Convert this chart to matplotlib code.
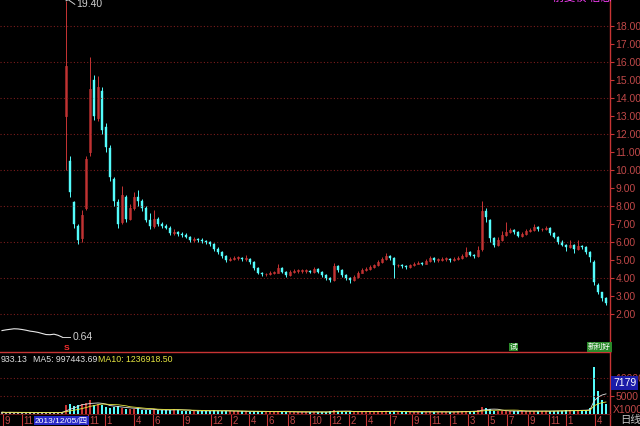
import numpy as np
import pandas as pd
import matplotlib
matplotlib.use('Agg')
import matplotlib.pyplot as plt

plt.rcParams['font.family'] = ['Liberation Sans', 'Noto Sans CJK SC', 'DejaVu Sans']

# price before relisting (closes only), bars 0..15
pre_close = [1.08, 1.12, 1.15, 1.18, 1.17, 1.14, 1.10, 1.05, 1.02, 0.98, 0.92, 0.86, 0.85, 0.88, 0.82, 0.72]
pre_low_label = 0.64

# daily candles, bars 16..151
opens = [13.0, 10.5, 8.2, 6.9, 6.2, 7.9, 11.0, 15.0, 12.9, 14.4,
         12.4, 11.2, 9.5, 8.2, 7.1, 8.5, 7.3, 7.9, 8.5, 8.3,
         7.9, 7.2, 6.9, 7.3, 7.0, 6.9, 6.8, 6.5, 6.55, 6.45,
         6.4, 6.3, 6.1, 6.15, 6.1, 6.05, 6.0, 5.9, 5.6, 5.45,
         5.2, 5.0, 5.05, 5.1, 5.1, 5.05, 5.05, 4.9, 4.55, 4.3,
         4.2, 4.2, 4.3, 4.3, 4.55, 4.35, 4.15, 4.35, 4.4, 4.4,
         4.4, 4.4, 4.35, 4.5, 4.35, 4.15, 4.0, 3.9, 4.65, 4.45,
         4.15, 4.0, 3.9, 4.05, 4.3, 4.45, 4.5, 4.6, 4.7, 4.9,
         5.05, 5.2, 5.1, 4.7, 4.7, 4.65, 4.6, 4.7, 4.8, 4.85,
         4.8, 4.95, 5.1, 5.0, 5.0, 5.05, 5.05, 5.0, 5.05, 5.1,
         5.2, 5.45, 5.3, 5.2, 5.6, 7.7, 7.2, 6.2, 5.85, 6.1,
         6.4, 6.55, 6.65, 6.55, 6.35, 6.45, 6.6, 6.65, 6.85, 6.7,
         6.7, 6.8, 6.5, 6.3, 6.0, 5.85, 5.7, 5.85, 5.6, 5.8,
         5.7, 5.45, 4.9, 3.6, 3.2, 2.9]
closes = [15.8, 8.8, 7.0, 6.1, 7.5, 10.6, 14.5, 13.0, 14.6, 12.2,
          11.3, 9.6, 8.3, 7.0, 8.6, 7.3, 7.9, 8.5, 8.3, 7.9,
          7.2, 6.9, 7.3, 7.0, 6.9, 6.8, 6.5, 6.55, 6.45, 6.4,
          6.3, 6.1, 6.15, 6.1, 6.05, 6.0, 5.9, 5.6, 5.45, 5.2,
          5.0, 5.05, 5.1, 5.1, 5.05, 5.05, 4.9, 4.55, 4.3, 4.2,
          4.2, 4.3, 4.3, 4.55, 4.35, 4.15, 4.35, 4.4, 4.4, 4.4,
          4.4, 4.35, 4.5, 4.35, 4.15, 4.0, 3.9, 4.65, 4.45, 4.15,
          4.0, 3.9, 4.05, 4.3, 4.45, 4.5, 4.6, 4.7, 4.9, 5.05,
          5.2, 5.1, 4.7, 4.7, 4.65, 4.6, 4.7, 4.8, 4.85, 4.8,
          4.95, 5.1, 5.0, 5.0, 5.05, 5.05, 5.0, 5.05, 5.1, 5.2,
          5.45, 5.3, 5.2, 5.55, 7.7, 7.4, 6.2, 5.85, 6.1, 6.4,
          6.55, 6.65, 6.55, 6.35, 6.45, 6.6, 6.65, 6.85, 6.7, 6.7,
          6.8, 6.5, 6.3, 6.0, 5.85, 5.7, 5.85, 5.6, 5.8, 5.7,
          5.45, 5.15, 3.8, 3.2, 2.9, 2.6]
highs = [19.4, 10.8, 8.3, 7.0, 7.8, 10.8, 16.3, 15.3, 15.2, 14.6,
         12.6, 11.4, 9.6, 8.4, 9.1, 8.6, 8.1, 8.8, 8.9, 8.4,
         8.0, 7.6, 7.8, 7.4, 7.1, 7.0, 6.9, 6.7, 6.6, 6.55,
         6.5, 6.35, 6.25, 6.2, 6.2, 6.1, 6.05, 5.95, 5.7, 5.5,
         5.25, 5.15, 5.2, 5.2, 5.15, 5.3, 5.1, 4.95, 4.6, 4.35,
         4.3, 4.4, 4.4, 4.8, 4.6, 4.4, 4.45, 4.5, 4.5, 4.5,
         4.5, 4.45, 4.6, 4.55, 4.4, 4.2, 4.05, 4.85, 4.7, 4.5,
         4.2, 4.05, 4.15, 4.4, 4.55, 4.6, 4.7, 4.8, 5.0, 5.15,
         5.4, 5.3, 5.15, 4.8, 4.8, 4.7, 4.8, 4.9, 4.95, 4.9,
         5.05, 5.2, 5.15, 5.1, 5.15, 5.15, 5.1, 5.15, 5.2, 5.35,
         5.7, 5.5, 5.35, 5.8, 8.3, 7.9, 7.3, 6.3, 6.3, 6.6,
         7.1, 6.8, 6.7, 6.6, 6.55, 6.7, 6.75, 7.0, 6.9, 6.8,
         6.9, 6.85, 6.55, 6.35, 6.1, 5.9, 6.1, 5.9, 6.1, 5.85,
         5.75, 5.5, 5.0, 3.7, 3.25, 2.95]
lows = [10.0, 8.5, 6.8, 5.9, 6.0, 7.8, 10.8, 12.8, 12.7, 12.0,
        11.0, 9.4, 8.0, 6.8, 7.0, 7.1, 7.2, 7.8, 8.0, 7.7,
        7.1, 6.7, 6.8, 6.9, 6.8, 6.7, 6.4, 6.4, 6.35, 6.3,
        6.2, 6.0, 6.0, 6.0, 5.95, 5.9, 5.8, 5.5, 5.35, 5.1,
        4.9, 4.95, 5.0, 5.0, 4.95, 4.95, 4.8, 4.45, 4.2, 4.1,
        4.1, 4.15, 4.2, 4.25, 4.25, 4.05, 4.1, 4.3, 4.3, 4.3,
        4.3, 4.25, 4.3, 4.25, 4.05, 3.9, 3.8, 3.85, 4.35, 4.05,
        3.9, 3.7, 3.85, 4.0, 4.25, 4.4, 4.45, 4.55, 4.65, 4.85,
        5.0, 5.0, 4.0, 4.6, 4.55, 4.5, 4.55, 4.65, 4.75, 4.7,
        4.75, 4.9, 4.9, 4.9, 4.95, 4.95, 4.9, 4.95, 5.0, 5.05,
        5.15, 5.2, 5.1, 5.15, 5.5, 7.1, 6.0, 5.7, 5.8, 6.05,
        6.35, 6.5, 6.45, 6.25, 6.3, 6.4, 6.55, 6.6, 6.6, 6.6,
        6.65, 6.4, 6.2, 5.9, 5.75, 5.5, 5.65, 5.4, 5.55, 5.6,
        5.35, 4.9, 3.6, 3.1, 2.75, 2.5]

# volume (x1000), bars 0..151
volume = [0.5, 0.4, 0.5, 0.4, 0.5, 0.4, 0.4, 0.5, 0.4, 0.4, 0.5, 0.4, 0.4, 0.5, 0.4, 0.5,
          2.4, 2.8, 2.2, 2.6, 2.9, 3.1, 3.8, 2.6, 2.9, 2.4,
          2.0, 1.8, 1.9, 2.2, 1.6, 1.5, 1.3, 1.4, 1.7, 1.2, 1.1, 1.2, 1.3, 1.0, 1.1,
          1.0, 1.1, 1.5, 1.2, 0.9, 0.9, 0.8, 0.9, 0.8, 0.9, 0.8, 0.9, 1.0, 0.9, 0.8, 0.9, 0.8, 0.7, 0.8, 0.7,
          0.7, 0.6, 0.8, 0.7, 0.6, 0.6, 0.7, 0.6, 0.8, 0.6, 0.6, 0.5, 0.6, 0.5, 0.6, 0.5, 0.5, 0.6, 0.5, 0.6,
          0.6, 0.7, 1.2, 0.8, 0.7, 0.6, 0.7, 0.6, 0.6, 0.7, 0.6, 0.7, 0.6, 0.7, 0.8, 0.9, 0.7, 0.8, 0.6, 0.6,
          0.6, 0.5, 0.6, 0.6, 0.5, 0.6, 0.7, 0.6, 0.6, 0.5, 0.6, 0.6, 0.6, 0.7, 0.7, 0.9, 0.7, 0.7, 1.0, 2.0,
          1.6, 1.3, 0.9, 0.8, 0.8, 0.9, 0.8, 0.7, 0.7, 0.8, 0.8, 0.9, 0.8, 0.7, 0.8, 0.9, 0.8, 0.9, 0.8, 0.9,
          1.0, 1.1, 0.9, 1.0, 1.1, 1.2, 1.6, 13.0, 6.5, 4.0, 2.8]

price_ticks = list(range(2, 19))
grid_levels = [2, 4, 6, 8, 10, 12, 14, 16, 18]
vol_ticks = [5, 10]
vol_tick_labels = ['5000', '10000']

date_ticks = [0.25, 5, 21.5, 25.75, 33, 37.75, 45.25, 52.25, 57.25, 61.75, 66.25, 71.5, 77,
              82, 86.75, 91, 97, 102.5, 107, 112, 116.5, 121.5, 126.25, 131.5, 136.75, 141, 148.25]
date_labels = ['9', '11', '11', '1', '4', '6', '9', '12', '2', '4', '6', '8', '10',
               '12', '2', '4', '7', '9', '11', '1', '3', '5', '7', '9', '11', '1', '4']
cursor_date = '2013/12/05/四'
cursor_pos = 8.25

RED = '#c83434'
DRED = '#7a1c1c'
CYAN = '#54fcfc'
W, H = 640, 426


def box(x0, y0, x1, y1):
    return [x0 / W, 1 - y1 / H, (x1 - x0) / W, (y1 - y0) / H]


fig = plt.figure(figsize=(6.4, 4.26), dpi=100, facecolor='black')

ax = fig.add_axes(box(0, 0, 610, 352))
ax2 = fig.add_axes(box(0, 352, 610, 414))
ax3 = fig.add_axes(box(0, 414, 610, 426))
for a in (ax, ax2, ax3):
    a.set_facecolor('black')
    a.set_xlim(-0.5, 152)
    for s in ('left', 'top', 'bottom'):
        a.spines[s].set_visible(False)
    a.spines['right'].set_color(RED)
    a.spines['right'].set_linewidth(1)
    a.tick_params(axis='x', bottom=False, labelbottom=False)

# ---- price panel
ax.set_ylim(-0.11, 19.44)
for g in grid_levels:
    ax.axhline(g, color=DRED, lw=0.8, ls=(0, (1, 2)))

pre_x = np.arange(len(pre_close))
ax.plot(pre_x, pre_close, color='#e8e8e8', lw=0.8)

o = np.array(opens)
c = np.array(closes)
hi = np.array(highs)
lo = np.array(lows)
cx = np.arange(len(pre_close), len(pre_close) + len(closes))
up = c >= o
cols = np.where(up, RED, CYAN)
ax.vlines(cx, lo, hi, colors=cols, lw=0.7)
body_h = np.maximum(np.abs(c - o), 0.04)
ax.bar(cx[~up], body_h[~up], bottom=np.minimum(o, c)[~up], width=0.4,
       color=CYAN, edgecolor=CYAN, lw=0.3)
ax.bar(cx[up], body_h[up], bottom=np.minimum(o, c)[up], width=0.4,
       color='black', edgecolor=RED, lw=0.5)

ax.yaxis.tick_right()
ax.set_yticks(price_ticks)
ax.set_yticklabels([f'{v:.2f}' for v in price_ticks])
ax.tick_params(axis='y', colors=RED, labelsize=7.5, length=3, pad=1, width=0.8)
for t in ax.get_yticklabels():
    t.set_color('#c04848')

# max / min labels
kmax = cx[np.argmax(hi)]
ax.plot([kmax, kmax + 0.6, kmax + 2.2], [hi.max(), hi.max() + 0.05, hi.max() - 0.2], color='#d0d0d0', lw=0.7)
ax.text(kmax + 2.6, hi.max() - 0.2, f'{hi.max():.2f}', color='#d0d0d0', fontsize=7.5, va='center')
ax.plot([pre_x[-1], pre_x[-1] + 2], [pre_close[-1], pre_close[-1]], color='#d0d0d0', lw=0.7)
ax.text(pre_x[-1] + 2.6, pre_close[-1], f'{pre_low_label:.2f}', color='#d0d0d0', fontsize=7.5, va='center')

# ---- volume panel
vmax = 17.2
ax2.set_ylim(0, vmax)
ax2.spines['top'].set_visible(True)
ax2.spines['top'].set_color(RED)
ax2.spines['top'].set_linewidth(1)
for g in vol_ticks:
    ax2.axhline(g, color=DRED, lw=0.8, ls=(0, (1, 2)))
vx = np.arange(len(volume))
vcols = ['#b0b0b0'] * len(pre_close) + list(cols)
ax2.bar(vx, volume, width=0.5, color=vcols, lw=0)
vs = pd.Series(volume)
ax2.plot(vx, vs.rolling(5, min_periods=1).mean(), color='#e0e0e0', lw=0.6)
ax2.plot(vx, vs.rolling(10, min_periods=1).mean(), color='#e6e640', lw=0.6)
ax2.yaxis.tick_right()
ax2.set_yticks(vol_ticks)
ax2.set_yticklabels(vol_tick_labels)
ax2.tick_params(axis='y', colors=RED, labelsize=7.5, length=3, pad=1, width=0.8)
for t in ax2.get_yticklabels():
    t.set_color('#c04848')

fig.text(1 / W, 1 - 359 / H, '933.13', color='#e0e0e0', fontsize=6.3, va='center')
fig.text(33 / W, 1 - 359 / H, 'MA5: 997443.69', color='#e0e0e0', fontsize=6.3, va='center')
fig.text(98 / W, 1 - 359 / H, 'MA10: 1236918.50', color='#e6e640', fontsize=6.3, va='center')
fig.text(613 / W, 1 - 383 / H, '7179', color='white', fontsize=7.5, va='center',
         bbox=dict(facecolor='#1c1ca8', edgecolor='none', pad=1.2))
fig.text(613 / W, 1 - 410 / H, 'X1000', color='#c04848', fontsize=7.5, va='center')

# event icons above volume
fig.text(510 / W, 1 - 347 / H, '试', color='white', fontsize=5.5, va='center',
         bbox=dict(facecolor='#2a8a2a', edgecolor='none', pad=0.6))
fig.text(588 / W, 1 - 347 / H, '新利好', color='white', fontsize=5.5, va='center',
         bbox=dict(facecolor='#2a8a2a', edgecolor='none', pad=0.6))
fig.text(64 / W, 1 - 348 / H, 'S', color='#ff3030', fontsize=6, va='center', fontweight='bold')

# ---- date row
ax3.set_ylim(0, 1)
ax3.spines['top'].set_visible(True)
ax3.spines['top'].set_color(DRED)
ax3.spines['top'].set_linewidth(0.6)
ax3.set_yticks([])
ax3.vlines(date_ticks, 0, 1, colors=RED, lw=0.8)
for p, lab in zip(date_ticks, date_labels):
    ax3.text(p + 0.35, 0.45, lab, color='#c04848', fontsize=7, va='center')
ax3.text(cursor_pos, 0.45, cursor_date, color='white', fontsize=6, va='center',
         bbox=dict(facecolor='#2828c8', edgecolor='none', pad=0.8))
fig.text(620 / W, 1 - 420 / H, '日线', color='#c8c8c8', fontsize=7.5, va='center')

fig.text(553 / W, 1 + 2 / H, '前复权 信息', color='#ff40ff', fontsize=8, va='center')

fig.savefig('out.png', dpi=100, facecolor='black')
